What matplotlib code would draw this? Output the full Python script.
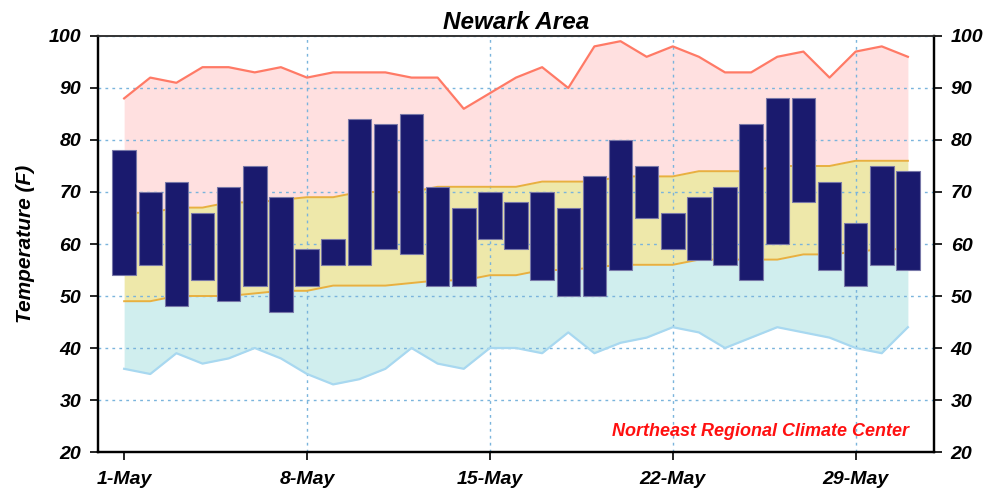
import matplotlib
matplotlib.use("Agg")
import matplotlib.pyplot as plt
import numpy as np

days = list(range(1, 32))
obs_high = [78, 70, 72, 66, 71, 75, 69, 59, 61, 84, 83, 85, 71, 67, 70, 68,
            70, 67, 73, 80, 75, 66, 69, 71, 83, 88, 88, 72, 64, 75, 74]
obs_low = [54, 56, 48, 53, 49, 52, 47, 52, 56, 56, 59, 58, 52, 52, 61, 59,
           53, 50, 50, 55, 65, 59, 57, 56, 53, 60, 68, 55, 52, 56, 55]
record_high = [88, 92, 91, 94, 94, 93, 94, 92, 93, 93, 93, 92, 92, 86, 89, 92,
               94, 90, 98, 99, 96, 98, 96, 93, 93, 96, 97, 92, 97, 98, 96]
normal_high = [66, 66, 67, 67, 68, 68, 68.5, 69, 69, 70, 70, 70, 71, 71, 71, 71,
               72, 72, 72, 73, 73, 73, 74, 74, 74, 75, 75, 75, 76, 76, 76]
normal_low = [49, 49, 50, 50, 50, 50.5, 51, 51, 52, 52, 52, 52.5, 53, 53, 54, 54,
              55, 55, 55.5, 56, 56, 56, 57, 57, 57, 57, 58, 58, 58.5, 59, 59]
record_low = [36, 35, 39, 37, 38, 40, 38, 35, 33, 34, 36, 40, 37, 36, 40, 40,
              39, 43, 39, 41, 42, 44, 43, 40, 42, 44, 43, 42, 40, 39, 44]
tick_days = [1, 8, 15, 22, 29]
tick_labels = ["1-May", "8-May", "15-May", "22-May", "29-May"]
yticks = list(range(20, 101, 10))

plt.rcParams['font.family'] = ['Liberation Sans', 'DejaVu Sans']
fig = plt.figure(figsize=(9.91, 4.91), dpi=100)
ax = fig.add_axes([0.0989, 0.0794, 0.8436, 0.8473])

x = np.array(days)
ax.fill_between(x, normal_high, record_high, color='#ffe0e0', lw=0, zorder=1)
ax.fill_between(x, normal_low, normal_high, color='#eee8aa', lw=0, zorder=1)
ax.fill_between(x, record_low, normal_low, color='#d0eeee', lw=0, zorder=1)
ax.plot(x, record_high, color='#ff7a66', lw=1.6, zorder=2)
ax.plot(x, normal_high, color='#e8b040', lw=1.4, zorder=2)
ax.plot(x, normal_low, color='#e8b040', lw=1.4, zorder=2)
ax.plot(x, record_low, color='#a8d8f0', lw=1.6, zorder=2)

hi = np.array(obs_high)
lo = np.array(obs_low)
ax.bar(x, hi - lo, bottom=lo, width=0.9, color='#1a1a6e', edgecolor='#7878a8',
       linewidth=0.8, zorder=3)

ax.set_xlim(0, 32)
ax.set_ylim(20, 100)
ax.set_xticks(tick_days)
ax.set_xticklabels(tick_labels)
ax.set_yticks(yticks)
ax.grid(True, color='#7ab4dc', linestyle=(0, (2, 3)), linewidth=1.0)
ax.get_xgridlines()[0].set_visible(False)

fp = dict(fontweight='bold', fontstyle='italic')
for lab in ax.get_xticklabels() + ax.get_yticklabels():
    lab.set_fontweight('bold')
    lab.set_fontstyle('italic')
    lab.set_fontsize(14)
ax.tick_params(axis='both', direction='out', length=6, width=1.2, pad=6)
ax.tick_params(axis='x', pad=8)

ax2 = ax.twinx()
ax2.set_ylim(20, 100)
ax2.set_yticks(yticks)
for lab in ax2.get_yticklabels():
    lab.set_fontweight('bold')
    lab.set_fontstyle('italic')
    lab.set_fontsize(14)
ax2.tick_params(axis='y', direction='out', length=6, width=1.2, pad=6)

for a in (ax, ax2):
    for s in a.spines.values():
        s.set_linewidth(1.6)
        s.set_color('black')
    a.spines['top'].set_linewidth(1.2)
    a.spines['top'].set_color('#333333')

ax.set_title("Newark Area", fontsize=17.5, pad=5, **fp)
ax.set_ylabel("Temperature (F)", fontsize=15, labelpad=10, **fp)
ax.text(31.05, 24, "Northeast Regional Climate Center", color='#ff1010', fontsize=13,
        ha='right', va='center', zorder=4, **fp)

fig.savefig("out.png", dpi=100)
